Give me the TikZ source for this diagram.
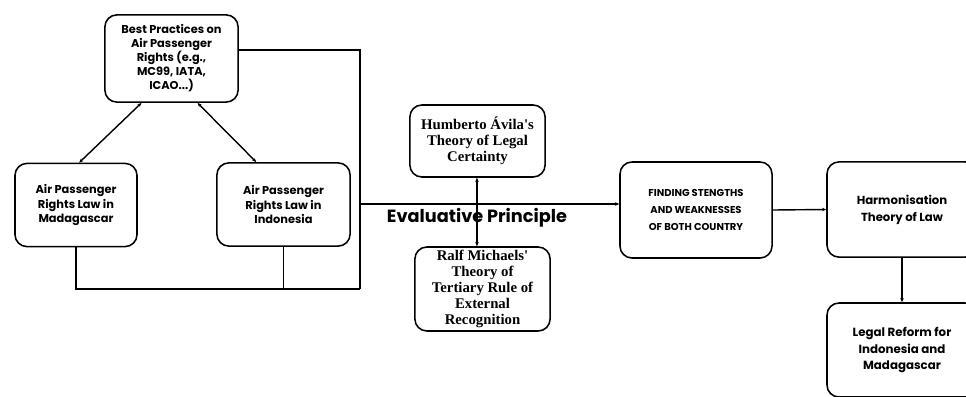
\documentclass[tikz,border=0pt]{standalone}
\usepackage{fontspec}
\newfontfamily\popfont{Poppins}
\newfontfamily\serffont{Liberation Serif}
\usetikzlibrary{arrows.meta}

\begin{document}
\begin{tikzpicture}[
    x=0.025cm, y=-0.025cm,
    box/.style={draw, line width=1.1pt, rounded corners=0.3cm, align=center, inner sep=2pt},
    sanstext/.style={font=\popfont\bfseries\fontsize{8.1}{10}\selectfont},
    seriftext/.style={font=\serffont\bfseries\fontsize{10.5}{11.4}\selectfont},
    link/.style={line width=1pt},
    arrow/.style={link, -{Stealth[length=3pt,width=2.5pt]}},
    twoway/.style={link, {Stealth[length=3pt,width=2.5pt]}-{Stealth[length=3pt,width=2.5pt]}}
  ]

  % Frame
  \clip (0,0) rectangle (966,396);
  \useasboundingbox (0,0) rectangle (966,396);

  % Country laws and best practices
  \node[box, sanstext, minimum width=3.33cm, minimum height=2.18cm] (best) at (171.5,58.5)
    {Best Practices on\\Air Passenger\\Rights (e.g.,\\MC99, IATA,\\ICAO...)};
  \node[box, sanstext, minimum width=3.05cm, minimum height=2.08cm] (mada) at (76,205)
    {Air Passenger\\Rights Law in\\Madagascar};
  \node[box, sanstext, minimum width=3.33cm, minimum height=2.08cm] (indo) at (283.5,204.5)
    {Air Passenger\\Rights Law in\\Indonesia};

  \draw[twoway] ([xshift=-0.75cm]best.south) -- ([xshift=0.08cm]mada.north);
  \draw[twoway] ([xshift=0.65cm]best.south) -- ([xshift=-0.68cm]indo.north);

  % Collecting lines
  \coordinate (bus) at (360,289);
  \coordinate (joint) at (360,204);
  \draw[link] (mada.south) -- (mada.south |- bus) -- (bus);
  \draw[link] (indo.south) -- (indo.south |- bus);
  \draw[link] ([yshift=0.21cm]best.east) -| (bus);

  % Evaluative principle
  \node[box, seriftext, minimum width=3.38cm, minimum height=1.8cm] (humb) at (477.5,141)
    {Humberto Ávila's\\Theory of Legal\\Certainty};
  \node[box, seriftext, minimum width=3.38cm, minimum height=2.1cm] (ralf) at (482.5,289)
    {Ralf Michaels'\\Theory of\\Tertiary Rule of\\External\\Recognition};
  \node[font=\popfont\bfseries\fontsize{12.6}{14}\selectfont] (eval) at (477,218) {Evaluative Principle};

  \coordinate (mid) at (477,204);
  \draw[arrow] (mid) -- (mid |- humb.south);
  \draw[arrow] (mid) -- (mid |- ralf.north);

  % Findings and reform
  \node[box, font=\popfont\bfseries\fontsize{7.1}{12}\selectfont, minimum width=3.8cm, minimum height=2.4cm] (find) at (696,210)
    {FINDING STENGTHS\\AND WEAKNESSES\\OF BOTH COUNTRY};
  \node[box, font=\popfont\bfseries\fontsize{8.3}{12}\selectfont, minimum width=3.75cm, minimum height=2.38cm] (harm) at (902,209.5)
    {Harmonisation\\Theory of Law};
  \node[box, font=\popfont\bfseries\fontsize{8.4}{12}\selectfont, minimum width=3.75cm, minimum height=2.35cm] (legal) at (902,350)
    {Legal Reform for\\Indonesia and\\Madagascar};

  \draw[arrow] (joint) -- (joint -| find.west);
  \draw[arrow] (find.east) -- (harm.west);
  \draw[arrow] (harm.south) -- (legal.north);

\end{tikzpicture}
\end{document}
